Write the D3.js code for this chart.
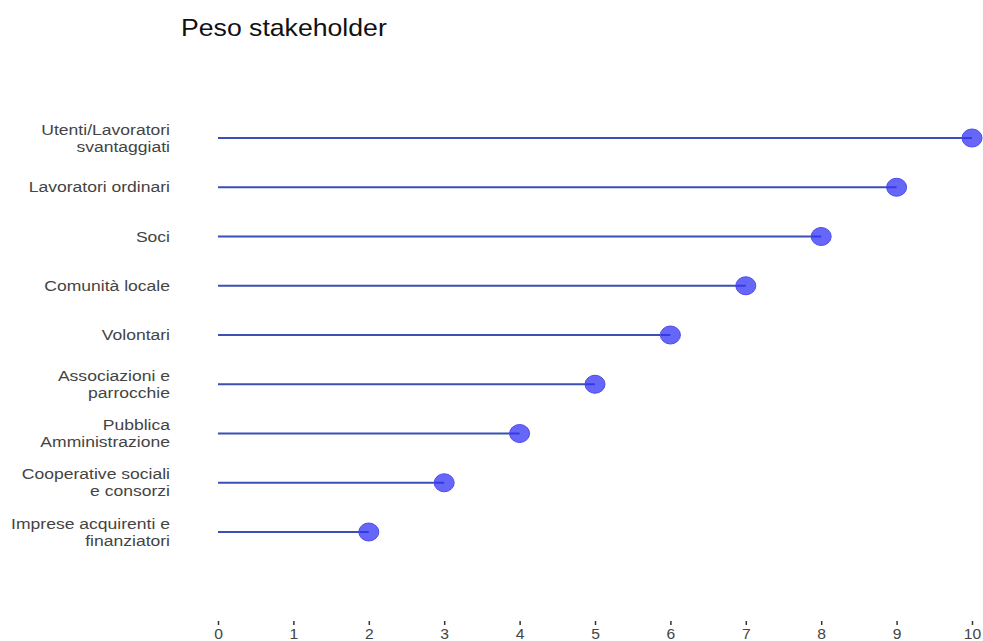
<!DOCTYPE html>
<html><head><meta charset="utf-8">
<script src="https://cdn.jsdelivr.net/npm/d3@7"></script>
<style>body{margin:0;background:#fff;} svg{display:block;}</style>
</head><body>
<svg id="c" width="983" height="641"></svg>
<script>
const categories = [
  ["Utenti/Lavoratori","svantaggiati"],
  ["Lavoratori ordinari"],
  ["Soci"],
  ["Comunità locale"],
  ["Volontari"],
  ["Associazioni e","parrocchie"],
  ["Pubblica","Amministrazione"],
  ["Cooperative sociali","e consorzi"],
  ["Imprese acquirenti e","finanziatori"]
];
const values = [10, 9, 8, 7, 6, 5, 4, 3, 2];
const xTicks = [0,1,2,3,4,5,6,7,8,9,10];
const title = "Peso stakeholder";

const svg = d3.select("#c");
const font = "'Liberation Sans', Arial, sans-serif";
const x = d3.scaleLinear().domain([0,10]).range([218,972]);
const keys = categories.map((c,i)=>i);
const y = d3.scalePoint().domain(keys).range([138,532]);

svg.append("g").attr("transform","translate(181,36) scale(1.11,1)")
  .append("text").attr("x",0).attr("y",0).attr("font-family",font)
  .attr("font-size",24).attr("fill","#111").text(title);

// y labels
const yl = svg.append("g");
categories.forEach((lines,i)=>{
  const n = lines.length;
  lines.forEach((s,j)=>{
    yl.append("g").attr("transform",`translate(170,${y(i) + 5 + (j - (n-1)/2)*17}) scale(1.17,1)`)
      .append("text").attr("text-anchor","end").attr("font-family",font)
      .attr("font-size",15).attr("fill","#444").text(s);
  });
});

// x axis
const xa = svg.append("g").attr("transform","translate(0,621)")
  .call(d3.axisBottom(x).tickValues(xTicks).tickSize(4).tickPadding(4).tickFormat(d3.format("d")));
xa.select(".domain").remove();
xa.selectAll(".tick line").attr("stroke","#333").attr("stroke-width",1.5);
xa.selectAll(".tick text").attr("font-family",font).attr("font-size",14).attr("fill","#444")
  .attr("transform","scale(1.12,1)");

// lollipops
const g = svg.append("g");
g.selectAll("line.s").data(values).join("line").attr("class","s")
  .attr("x1",x(0)).attr("x2",d=>x(d))
  .attr("y1",(d,i)=>y(i)).attr("y2",(d,i)=>y(i))
  .attr("stroke","#3a50b4").attr("stroke-width",2);
g.selectAll("ellipse").data(values).join("ellipse")
  .attr("cx",d=>x(d)).attr("cy",(d,i)=>y(i))
  .attr("rx",10).attr("ry",9)
  .attr("fill","#3333f5").attr("fill-opacity",0.75)
  .attr("stroke","#4a4af0").attr("stroke-width",1);
</script>
</body></html>
